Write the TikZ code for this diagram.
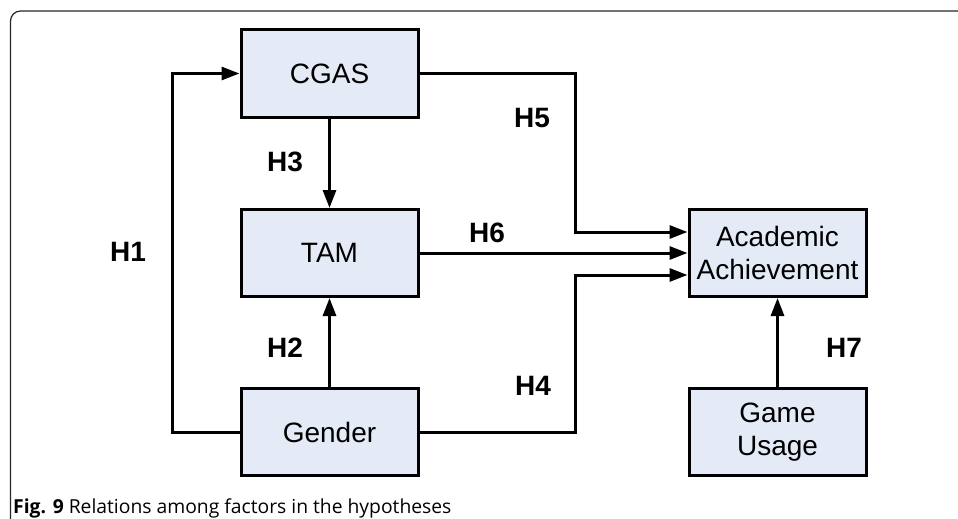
\documentclass[tikz,border=0pt]{standalone}
\usepackage{fontspec}
\setmainfont{Liberation Sans}
\newfontfamily\captionfont{Open Sans}
\usetikzlibrary{arrows.meta}
\usetikzlibrary{positioning}

\definecolor{boxfill}{RGB}{228,235,246}

\begin{document}
\begin{tikzpicture}[
  x=1pt, y=-1pt,
  box/.style={
    draw,
    line width=3pt,
    fill=boxfill,
    minimum width=177pt,
    minimum height=87pt,
    align=center,
    font=\fontsize{28}{33}\selectfont
  },
  hyp/.style={
    font=\bfseries\fontsize{28}{33}\selectfont
  },
  arrow/.style={-{Triangle[length=18pt,width=13pt]}, line width=3pt}
]
\useasboundingbox (0,0) rectangle (958,519);

% frame round the figure
\draw[line width=1.2pt, black!85, rounded corners=10pt]
  (10.5,530) -- (10.5,11) -- (970,11);

\node[box] (cgas) at (329.5,73.5) {CGAS};
\node[box, below=89.5pt of cgas] (tam) {TAM};
\node[box, below=89pt of tam] (gender) {Gender};

\node[box] (aa) at (777.5,253) {Academic\\Achievement};
\node[box, below=89pt of aa] (game) {Game\\Usage};

\coordinate (bend) at (575.5,0);

\draw[arrow] (gender.west) -- ++(-67pt,0) |- (cgas.west);
\draw[arrow] (cgas) -- (tam);
\draw[arrow] (gender) -- (tam);
\draw[arrow] (cgas.east) -- (cgas.east -| bend) |- ([yshift=21pt]aa.west);
\draw[arrow] (tam) -- (aa);
\draw[arrow] (gender.east) -- (gender.east -| bend) |- ([yshift=-22pt]aa.west);
\draw[arrow] (game) -- (aa);

\node[hyp] (h1) at (128,252) {H1};
\node[hyp] (h2) at (285,348) {H2};
\node[hyp] (h3) at (285,162) {H3};
\node[hyp] (h4) at (533,386) {H4};
\node[hyp] (h5) at (532,118) {H5};
\node[hyp] (h6) at (487,233) {H6};
\node[hyp] (h7) at (844,348) {H7};

\node[anchor=base west, inner sep=0pt, font=\captionfont\fontsize{19.3}{19.3}\selectfont]
  (caption) at (13,513) {\textbf{Fig. 9} Relations among factors in the hypotheses};

\end{tikzpicture}
\end{document}
